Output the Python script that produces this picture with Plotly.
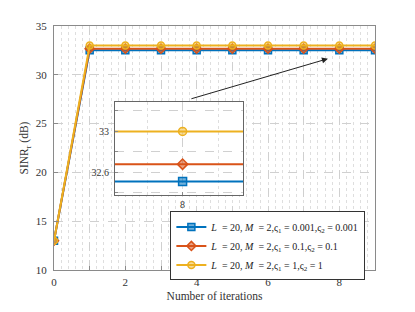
import plotly.graph_objects as go

iterations = [0, 1, 2, 3, 4, 5, 6, 7, 8, 9]
sinr_a = [13.0, 32.51, 32.51, 32.51, 32.51, 32.51, 32.51, 32.51, 32.51, 32.51]
sinr_b = [13.0, 32.68, 32.68, 32.68, 32.68, 32.68, 32.68, 32.68, 32.68, 32.68]
sinr_c = [13.0, 33.0, 33.0, 33.0, 33.0, 33.0, 33.0, 33.0, 33.0, 33.0]
names = [
    "<i>L</i>  = 20, <i>M</i>  = 2,ς<sub>1</sub> = 0.001,ς<sub>2</sub> = 0.001",
    "<i>L</i>  = 20, <i>M</i>  = 2,ς<sub>1</sub> = 0.1,ς<sub>2</sub> = 0.1",
    "<i>L</i>  = 20, <i>M</i>  = 2,ς<sub>1</sub> = 1,ς<sub>2</sub> = 1",
]
colors = ["#0072BD", "#D95319", "#EDB120"]
fills = ["rgba(0,114,189,0.55)", "rgba(217,83,25,0.55)", "rgba(237,177,32,0.45)"]
symbols = ["square", "diamond", "circle"]
series = [sinr_a, sinr_b, sinr_c]

FONT = "Liberation Serif"
fig = go.Figure()

for s, n, c, f, sym in zip(series, names, colors, fills, symbols):
    fig.add_trace(go.Scatter(
        x=iterations, y=s, name=n, mode="lines+markers",
        line=dict(color=c, width=2),
        marker=dict(symbol=sym, size=7, color=f, line=dict(color=c, width=1.5)),
        xaxis="x", yaxis="y"))

# inset
for s, c, f, sym in zip(series, colors, fills, symbols):
    fig.add_trace(go.Scatter(
        x=iterations, y=s, mode="lines+markers", showlegend=False,
        line=dict(color=c, width=2),
        marker=dict(symbol=sym, size=8, color=f, line=dict(color=c, width=1.5)),
        xaxis="x2", yaxis="y2"))

grid = "#d0d0d0"
axis_line = "#8a8a8a"
fig.update_layout(
    width=407, height=304,
    margin=dict(l=46, r=40, t=16, b=35),
    paper_bgcolor="white", plot_bgcolor="white",
    font=dict(family=FONT, size=11, color="#333"),
    xaxis=dict(
        range=[0, 9], tickvals=list(range(10)),
        ticktext=["0", "", "2", "", "4", "", "6", "", "8", ""],
        showgrid=True, gridcolor=grid, griddash="dash", gridwidth=1,
        minor=dict(dtick=0.2, showgrid=True, gridcolor="#dedede", griddash="dot", gridwidth=1),
        showline=True, linecolor=axis_line, mirror=True, ticks="inside", ticklen=4,
        tickcolor=axis_line, zeroline=False, ticklabelstandoff=2,
        title=dict(text="Number of iterations", font=dict(family=FONT, size=11.5), standoff=4),
    ),
    yaxis=dict(
        range=[10, 35], dtick=5,
        showgrid=True, gridcolor=grid, griddash="dash", gridwidth=1,
        showline=True, linecolor=axis_line, mirror=True, ticks="inside", ticklen=4,
        tickcolor=axis_line, zeroline=False, ticklabelstandoff=4,
        title=dict(text="SINR<sub>r</sub> (dB)", font=dict(family=FONT, size=11.5), standoff=4),
    ),
    xaxis2=dict(
        domain=[0.19, 0.589], anchor="y2", range=[7.81, 8.17],
        tickvals=[8], ticktext=["8"],
        showgrid=True, gridcolor=grid, griddash="dash",
        minor=dict(dtick=0.1, showgrid=True, gridcolor="#dedede", griddash="dot"),
        showline=True, linecolor="#666", mirror=True, ticks="inside", ticklen=3,
        tickcolor=axis_line, zeroline=False, tickfont=dict(size=10),
    ),
    yaxis2=dict(
        domain=[0.308, 0.688], anchor="x2", range=[32.38, 33.286],
        tickvals=[32.4, 32.6, 32.8, 33.0, 33.2], ticktext=["", "32.6", "", "33", ""],
        showgrid=True, gridcolor=grid, griddash="dash",
        showline=True, linecolor="#666", mirror=True, ticks="inside", ticklen=3,
        tickcolor=axis_line, zeroline=False, tickfont=dict(size=10), ticklabelstandoff=3,
    ),
    legend=dict(
        x=0.97, y=0.24, xanchor="right", yanchor="top",
        bgcolor="white", bordercolor="#333", borderwidth=1,
        font=dict(family=FONT, size=10, color="#222"),
        tracegroupgap=0, itemwidth=30,
    ),
    annotations=[dict(
        x=7.68, y=31.65, ax=3.81, ay=27.5, xref="x", yref="y", axref="x", ayref="y",
        showarrow=True, arrowhead=2, arrowsize=1.2, arrowwidth=1, arrowcolor="#222", text="",
    )],
)

fig.write_html("out.html")
